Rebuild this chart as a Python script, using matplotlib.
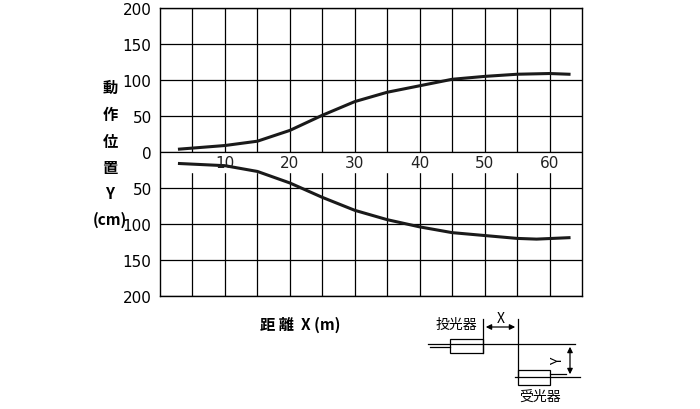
import matplotlib
matplotlib.use("Agg")
import matplotlib.pyplot as plt
from matplotlib.patches import Rectangle

plt.rcParams['font.family'] = ['Noto Sans CJK JP', 'DejaVu Sans']

# distance X (m) and operating position Y (cm)
x_top = [3, 10, 15, 20, 25, 30, 35, 40, 45, 50, 55, 60, 63]
y_top = [4, 9, 15, 30, 51, 70, 83, 92, 101, 105, 108, 109, 108]
x_bot = [3, 10, 15, 20, 25, 30, 35, 40, 45, 50, 55, 58, 63]
y_bot = [-16, -19, -27, -43, -63, -81, -94, -104, -112, -116, -120, -121, -119]

yticks = [-200, -150, -100, -50, 0, 50, 100, 150, 200]
xticks = [10, 20, 30, 40, 50, 60]

W, H = 700, 410
fig = plt.figure(figsize=(7, 4.1), dpi=100)
ax = fig.add_axes([160 / W, 1 - 297 / H, 422 / W, 288 / H])
ax.set_xlim(0, 65)
ax.set_ylim(-200, 200)
for xv in range(5, 65, 5):
    ax.axvline(xv, color="black", lw=0.9, zorder=1)
for yv in yticks:
    ax.axhline(yv, color="black", lw=0.9, zorder=1)
# white strip under the zero line where the x labels sit
ax.axhspan(-28, -1, color="white", zorder=2)
ax.axhline(0, color="black", lw=0.9, zorder=3)
ax.plot(x_top, y_top, color="#1a1a1a", lw=2.2, zorder=4)
ax.plot(x_bot, y_bot, color="#1a1a1a", lw=2.2, zorder=4)
for xv in xticks:
    ax.text(xv, -14, str(xv), ha="center", va="center", fontsize=11,
            family="DejaVu Sans", color="#222222", zorder=5)
ax.set_xticks([])
ax.set_yticks(yticks)
ax.set_yticklabels([str(abs(v)) for v in yticks], fontsize=11, family="DejaVu Sans")
ax.tick_params(axis="y", length=0, pad=6)
for s in ax.spines.values():
    s.set_linewidth(1.0)

# figure overlay in pixel coordinates
ov = fig.add_axes([0, 0, 1, 1], zorder=-1 if False else 10)
ov.set_xlim(0, W)
ov.set_ylim(H, 0)
ov.axis("off")
ov.patch.set_alpha(0)
for ch, yy in zip(["動", "作", "位", "置", "Y", "(cm)"], [88, 115, 142, 168, 194, 220]):
    ov.text(110, yy, ch, ha="center", va="center", fontsize=11, fontweight="bold")
ov.text(300, 325, "距 離  X (m)", ha="center", va="center", fontsize=11, fontweight="bold")

lw = 0.9
ov.plot([428, 575], [345, 345], color="black", lw=lw)
ov.plot([430, 450], [348, 348], color="black", lw=lw)
ov.add_patch(Rectangle((450, 340), 33, 14, fill=False, lw=lw))
ov.plot([483, 483], [320, 354], color="black", lw=lw)
ov.plot([518, 518], [320, 378], color="black", lw=lw)
ov.add_patch(Rectangle((518, 371), 32, 15, fill=False, lw=lw))
ov.plot([515, 580], [378, 378], color="black", lw=lw)
ov.plot([550, 566], [375, 375], color="black", lw=lw)
ov.annotate("", xy=(483, 328), xytext=(518, 328),
            arrowprops=dict(arrowstyle="<|-|>", color="black", lw=lw, mutation_scale=8))
ov.annotate("", xy=(570, 345), xytext=(570, 378),
            arrowprops=dict(arrowstyle="<|-|>", color="black", lw=lw, mutation_scale=8))
ov.text(501, 319, "X", ha="center", va="center", fontsize=10)
ov.text(558, 361, "Y", ha="center", va="center", fontsize=10, rotation=90)
ov.text(456, 325, "投光器", ha="center", va="center", fontsize=10)
ov.text(540, 397, "受光器", ha="center", va="center", fontsize=10)

fig.savefig("out.png", dpi=100)
